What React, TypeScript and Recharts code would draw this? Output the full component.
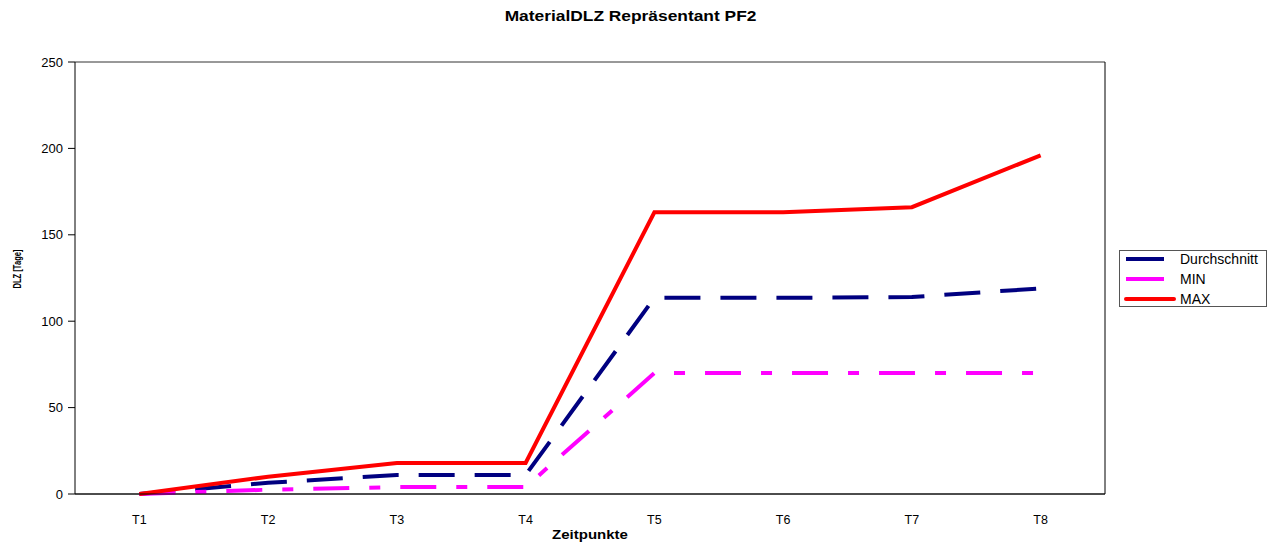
import React from 'react'
import {
  LineChart, Line, XAxis, YAxis, CartesianGrid, Legend, ReferenceLine,
} from 'recharts'

const categories = ['T1', 'T2', 'T3', 'T4', 'T5', 'T6', 'T7', 'T8']
const durchschnitt = [0, 6.5, 11, 11, 113.5, 113.5, 114, 119]
const minValues = [0, 2.5, 4, 4, 70, 70, 70, 70]
const maxValues = [0, 10, 18, 18, 163, 163, 166, 196]
const yTicks = [0, 50, 100, 150, 200, 250]

const data = categories.map((c, i) => ({
  x: i + 1,
  label: c,
  avg: durchschnitt[i],
  min: minValues[i],
  max: maxValues[i],
}))

const xTicks = categories.map((_, i) => i + 1)
const boundaryTicks = [0, ...categories.map((_, i) => i + 1)].map(v => v + 0.5)

const series = [
  { key: 'avg', name: 'Durchschnitt', color: '#000080', dash: '36 20' },
  { key: 'min', name: 'MIN', color: '#ff00ff', dash: '36 20 11 20' },
  { key: 'max', name: 'MAX', color: '#ff0000', dash: undefined },
]

const FONT = '"Liberation Sans", Arial, sans-serif'

function LegendBox() {
  return (
    <div style={{
      border: '1px solid #555', background: '#fff', width: 148, height: 57,
      boxSizing: 'border-box', padding: '0 0 0 4px', fontFamily: FONT, fontSize: 14,
    }}>
      <div style={{ marginTop: -2 }}>
        {series.map(s => (
          <div key={s.key} style={{ display: 'flex', alignItems: 'center', height: 20 }}>
            <div style={{
              width: s.key === 'max' ? 52 : 38, height: 4, background: s.color,
              marginLeft: s.key === 'max' ? 0 : 2, marginRight: s.key === 'max' ? 4 : 16,
              borderRadius: s.key === 'max' ? 2 : 0,
            }} />
            <span style={{ color: '#000' }}>{s.name}</span>
          </div>
        ))}
      </div>
    </div>
  )
}

export default function App() {
  return (
    <div style={{ position: 'fixed', left: 0, top: 0, width: 1276, height: 548, background: '#fff' }}>
      <div style={{
        position: 'absolute', top: 8, left: 0, width: 1276, textAlign: 'center',
        fontFamily: FONT, fontWeight: 'bold', fontSize: 14, color: '#000',
      }}>
        <span style={{ display: 'inline-block', transform: 'scaleX(1.24)', marginLeft: -14 }}>
          MaterialDLZ Repräsentant PF2
        </span>
      </div>
      <LineChart width={1276} height={548} data={data}
        margin={{ top: 62, right: 171, bottom: 0, left: 0 }}>
        <CartesianGrid horizontal vertical={false} stroke="#333" strokeWidth={1} />
        <XAxis xAxisId="main" dataKey="x" type="number" domain={[0.5, 8.5]} ticks={xTicks}
          tickFormatter={(v: number) => categories[v - 1]} tickLine={false}
          axisLine={{ stroke: '#000' }} height={54} tickMargin={15}
          tick={{ fill: '#000', fontSize: 12.5, fontFamily: FONT }}
          label={{
            content: ({ viewBox }: any) => (
              <text transform={`translate(${viewBox.x + viewBox.width / 2} ${viewBox.y + 45}) scale(1.25 1)`}
                textAnchor="middle" fontFamily={FONT} fontWeight="bold" fontSize={12} fill="#000">
                Zeitpunkte
              </text>
            ),
          }} />
        <XAxis xAxisId="marks" dataKey="x" type="number" domain={[0.5, 8.5]} ticks={boundaryTicks}
          tickFormatter={() => ''} axisLine={false} tickSize={6} height={0}
          tickLine={{ stroke: '#000' }} />
        <YAxis yAxisId="l" domain={[0, 250]} ticks={yTicks} width={75} tickSize={7} tickMargin={5}
          axisLine={{ stroke: '#000' }} tickLine={{ stroke: '#000' }}
          tick={{ fill: '#000', fontSize: 13, fontFamily: FONT }}
          label={{
            content: ({ viewBox }: any) => (
              <text x={viewBox.x + 17} y={viewBox.y + viewBox.height / 2 - 9} textAnchor="middle"
                transform={`rotate(-90 ${viewBox.x + 17} ${viewBox.y + viewBox.height / 2 - 9})`}
                fontFamily={FONT} fontWeight="bold" fontSize={10} fill="#000"
                textLength={39} lengthAdjust="spacingAndGlyphs" dy={4}>DLZ [Tage]</text>
            ),
          }} />
        <ReferenceLine xAxisId="main" yAxisId="l" x={8.5} stroke="#000" />
        {series.map(s => (
          <Line key={s.key} xAxisId="main" yAxisId="l" type="linear" dataKey={s.key} name={s.name}
            stroke={s.color} strokeWidth={4} strokeDasharray={s.dash} dot={false}
            isAnimationActive={false} />
        ))}
        <Legend layout="horizontal" verticalAlign="middle" align="center"
          wrapperStyle={{ left: 1119, top: 250, width: 148, height: 57 }}
          content={() => <LegendBox />} />
      </LineChart>
    </div>
  )
}
